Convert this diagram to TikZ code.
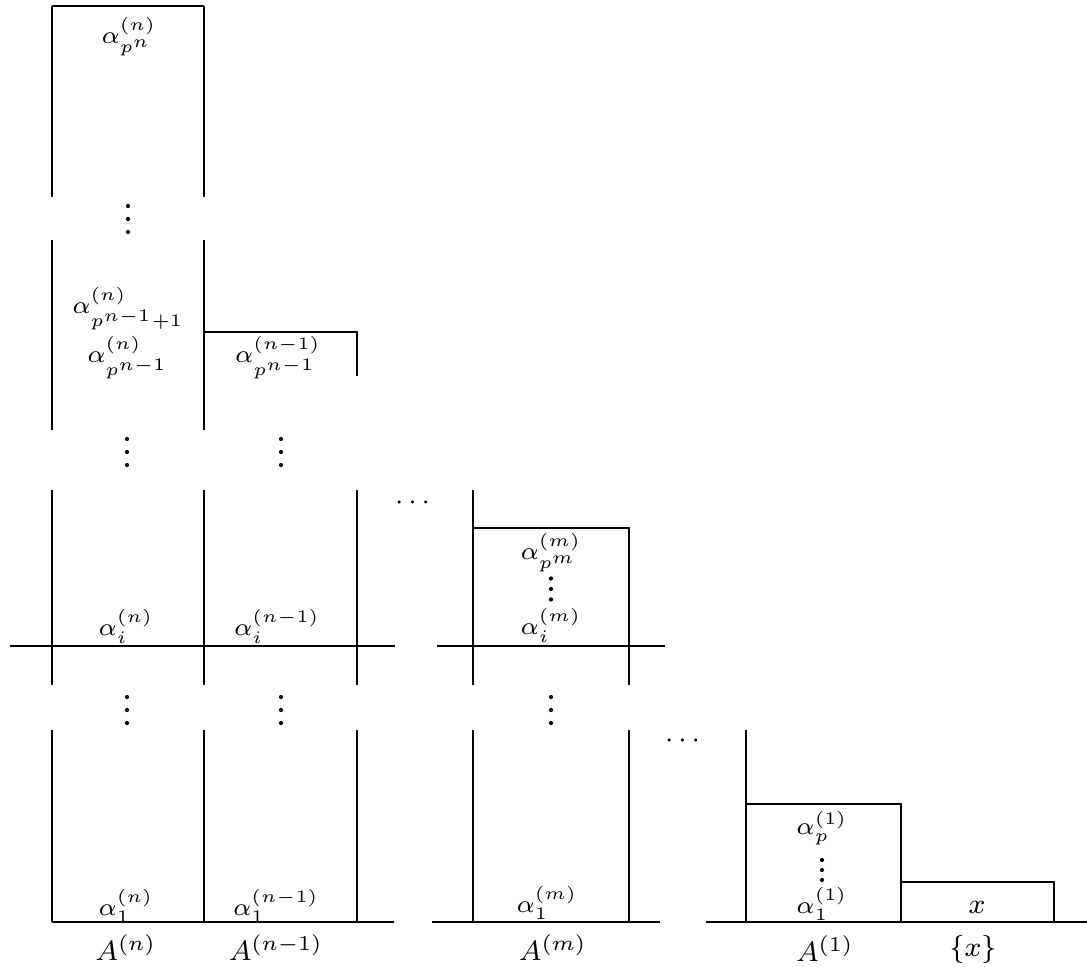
\documentclass[tikz,border=0pt]{standalone}
\usepackage{amsmath, amssymb}
\usetikzlibrary{positioning}

\begin{document}
\begin{tikzpicture}[x=0.01cm, y=-0.01cm, line width=0.75pt,
  elem/.style={font=\scriptsize, inner sep=0pt},
  setname/.style={font=\footnotesize, inner sep=0pt}]
  \useasboundingbox (0,0) rectangle (1087,967);
  % column A^(n)
  \foreach \x in {52,204}
    \foreach \a/\b in {6/197, 240/430, 490/685, 730/922}
      \draw (\x,\a) -- (\x,\b);
  \draw (52,6) -- (204,6);
  % column A^(n-1)
  \draw (204,332) -- (357,332) -- (357,376);
  \foreach \a/\b in {490/685, 730/922}
    \draw (357,\a) -- (357,\b);
  % column A^(m)
  \draw (473,490) -- (473,685);
  \draw (473,528) -- (629,528) -- (629,685);
  \foreach \x in {473,629}
    \draw (\x,730) -- (\x,922);
  % A^(1) and {x}
  \draw (746,730) -- (746,922);
  \draw (746,804) -- (901,804) -- (901,922);
  \draw (901,882) -- (1054,882) -- (1054,922);
  % base lines
  \draw (10,646) -- (395,646);
  \draw (437,646) -- (665,646);
  \draw (52,922) -- (394,922);
  \draw (432,922) -- (660,922);
  \draw (706,922) -- (1087,922);
  % vertical dots (x / middle y / spacing)
  \foreach \x/\y/\s in {128/219/13, 127/452/13, 281/452/13, 127/710/13,
                        281/710/13, 551/710/13, 551/589/10.5, 822/870/10}
    \foreach \k in {-1,0,1}
      \fill (\x,{\y+\k*\s}) circle[radius=0.6pt];
  % elements of A^(n)
  \node[elem] (apn) at (129,37) {$\alpha^{(n)}_{p^n}$};
  \node[elem] (apn1) at (128,309) {$\alpha^{(n)}_{p^{n-1}+1}$};
  \node[elem] (apn0) at (128,358) {$\alpha^{(n)}_{p^{n-1}}$};
  \node[elem] (ain) at (126,626) {$\alpha^{(n)}_i$};
  \node[elem] (a1n) at (126,906) {$\alpha^{(n)}_1$};
  % elements of A^(n-1)
  \node[elem] (apk) at (278,358) {$\alpha^{(n-1)}_{p^{n-1}}$};
  \node[elem] (aik) at (277,626) {$\alpha^{(n-1)}_i$};
  \node[elem] (a1k) at (276,906) {$\alpha^{(n-1)}_1$};
  % elements of A^(m)
  \node[elem] (apm) at (551,553) {$\alpha^{(m)}_{p^m}$};
  \node[elem] (aim) at (551,625) {$\alpha^{(m)}_i$};
  \node[elem] (a1m) at (547,903) {$\alpha^{(m)}_1$};
  % elements of A^(1)
  \node[elem] (apo) at (822,828) {$\alpha^{(1)}_p$};
  \node[elem] (a1o) at (822,904) {$\alpha^{(1)}_1$};
  \node[setname] (xel) at (977,907) {$x$};
  % gaps between columns
  \node[setname] (gap1) at (415,503) {$\cdots$};
  \node[setname] (gap2) at (685,741) {$\cdots$};
  % set names
  \node[setname] (An) at (126,948) {$A^{(n)}$};
  \node[setname] (Ak) at (276,948) {$A^{(n-1)}$};
  \node[setname] (Am) at (553,948) {$A^{(m)}$};
  \node[setname] (Ao) at (825,949) {$A^{(1)}$};
  \node[setname] (Ax) at (973,949) {$\{x\}$};
\end{tikzpicture}
\end{document}
